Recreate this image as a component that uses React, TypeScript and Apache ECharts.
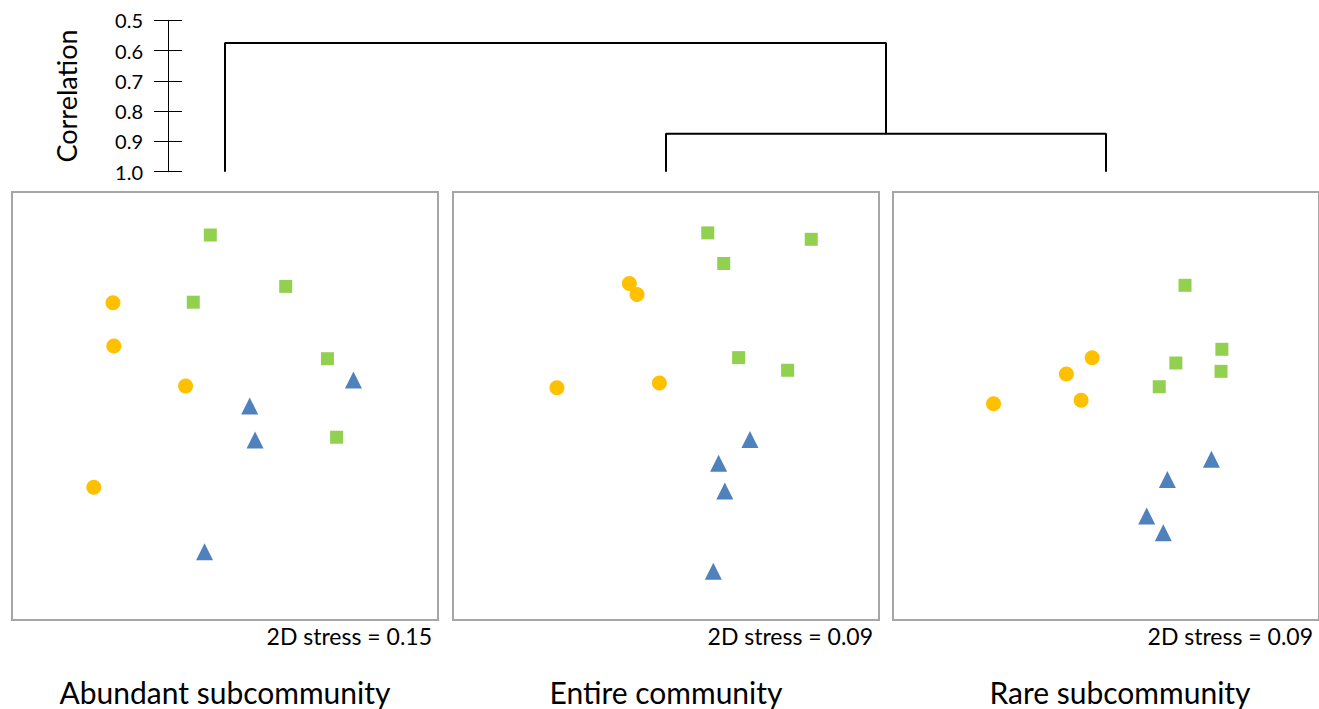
import React, { useEffect, useRef } from "react";
import * as echarts from "echarts";

// ---- Data ----
const panelTitles = ["Abundant subcommunity", "Entire community", "Rare subcommunity"];
const stressValues = [0.15, 0.09, 0.09];
const correlationTicks = [0.5, 0.6, 0.7, 0.8, 0.9, 1.0];

// Dendrogram merge heights (correlation)
const mergeEntireRare = 0.875; // Entire + Rare
const mergeAll = 0.575; // Abundant + (Entire, Rare)

// NMDS coordinates per panel: circles (orange), squares (green), triangles (blue)
const abundantCircles = [[-0.526, 0.483], [-0.522, 0.28], [-0.185, 0.093], [-0.616, -0.38]];
const abundantSquares = [[-0.069, 0.799], [-0.149, 0.485], [0.285, 0.559], [0.481, 0.221], [0.524, -0.146]];
const abundantTriangles = [[0.116, 0.0], [0.141, -0.159], [-0.096, -0.681], [0.603, 0.121]];

const entireCircles = [[-0.172, 0.572], [-0.136, 0.521], [-0.031, 0.108], [-0.512, 0.085]];
const entireSquares = [[0.196, 0.809], [0.682, 0.779], [0.271, 0.666], [0.341, 0.226], [0.571, 0.167]];
const entireTriangles = [[0.394, -0.156], [0.247, -0.268], [0.276, -0.397], [0.222, -0.772]];

const rareCircles = [[-0.065, 0.226], [-0.186, 0.15], [-0.117, 0.027], [-0.528, 0.011]];
const rareSquares = [[0.371, 0.564], [0.544, 0.265], [0.328, 0.201], [0.54, 0.162], [0.25, 0.09]];
const rareTriangles = [[0.495, -0.249], [0.288, -0.344], [0.191, -0.514], [0.269, -0.592]];

const panelData = [
  [abundantCircles, abundantSquares, abundantTriangles],
  [entireCircles, entireSquares, entireTriangles],
  [rareCircles, rareSquares, rareTriangles],
];

const FONT = "Lato, 'Open Sans', sans-serif";
const groupStyles = [
  { symbol: "circle", size: 15, color: "#FFC000" },
  { symbol: "rect", size: 13, color: "#92D050" },
  { symbol: "triangle", size: 17, color: "#4F81BD" },
];

const panelLefts = [12, 453, 893];
const panelTop = 192;
const panelW = 426;
const panelH = 428;
const W = 1319;

export default function App() {
  const ref = useRef<HTMLDivElement>(null);
  useEffect(() => {
    if (!ref.current) return;
    const chart = echarts.init(ref.current, null, { renderer: "svg" });

    const grids: any[] = [
      { left: 168, top: 20.3, width: 1, height: 151.4 },
      { left: 0, top: 20.3, width: W, height: 151.4 },
    ];
    panelLefts.forEach((l) =>
      grids.push({
        left: l,
        top: panelTop,
        width: panelW,
        height: panelH,
        show: true,
        borderColor: "#a6a6a6",
        borderWidth: 2,
        backgroundColor: "transparent",
      })
    );

    const xAxes: any[] = [
      { gridIndex: 0, type: "value", show: false, min: 0, max: 1 },
      { gridIndex: 1, type: "value", show: false, min: 0, max: W },
    ];
    const yAxes: any[] = [
      {
        gridIndex: 0,
        type: "value",
        position: "left",
        inverse: true,
        min: correlationTicks[0],
        max: correlationTicks[correlationTicks.length - 1],
        interval: 0.1,
        axisLine: { show: true, lineStyle: { color: "#000", width: 1 } },
        axisTick: { show: true, inside: false, length: 14, lineStyle: { color: "#000", width: 1 } },
        axisLabel: {
          show: true,
          fontSize: 20,
          fontFamily: FONT,
          color: "#000",
          margin: 25,
          formatter: (v: number) => v.toFixed(1),
        },
        splitLine: { show: false },
        name: "Correlation",
        nameLocation: "middle",
        nameRotate: 90,
        nameGap: 88,
        nameTextStyle: { fontSize: 27, fontFamily: FONT, color: "#000" },
      },
      {
        gridIndex: 0,
        type: "value",
        position: "left",
        offset: 0,
        inverse: true,
        min: correlationTicks[0],
        max: correlationTicks[correlationTicks.length - 1],
        interval: 0.1,
        axisLine: { show: false },
        axisTick: { show: true, inside: true, length: 14, lineStyle: { color: "#000", width: 1 } },
        axisLabel: { show: false },
        splitLine: { show: false },
      },
      { gridIndex: 1, type: "value", show: false, inverse: true, min: 0.5, max: 1.0 },
    ];
    panelLefts.forEach((_, i) => {
      xAxes.push({ gridIndex: i + 2, type: "value", show: false, min: -1, max: 1 });
      yAxes.push({ gridIndex: i + 2, type: "value", show: false, min: -1, max: 1 });
    });

    // dendrogram leaves sit above each panel's centre
    const leafX = panelLefts.map((l) => l + panelW / 2);
    const [p0, p1, p2] = leafX;
    const mid12 = (p1 + p2) / 2;
    const lineStyle = { color: "#000", width: 2 };
    const series: any[] = [
      { type: "line", xAxisIndex: 0, yAxisIndex: 1, symbol: "none", data: [] },
      {
        type: "line",
        xAxisIndex: 1,
        yAxisIndex: 2,
        symbol: "none",
        lineStyle,
        data: [[p1, 1.0], [p1, mergeEntireRare], [p2, mergeEntireRare], [p2, 1.0]],
      },
      {
        type: "line",
        xAxisIndex: 1,
        yAxisIndex: 2,
        symbol: "none",
        lineStyle,
        data: [[p0, 1.0], [p0, mergeAll], [mid12, mergeAll], [mid12, mergeEntireRare]],
      },
    ];
    panelData.forEach((groups, i) => {
      groups.forEach((pts, g) => {
        const st = groupStyles[g];
        series.push({
          type: "scatter",
          xAxisIndex: i + 2,
          yAxisIndex: i + 3,
          symbol: st.symbol,
          symbolSize: st.size,
          itemStyle: { color: st.color, opacity: 1 },
          data: pts,
        });
      });
    });

    const graphic: any[] = [];
    panelLefts.forEach((l, i) => {
      graphic.push({
        type: "text",
        x: l + panelW - 6,
        y: 636,
        style: {
          text: `2D stress = ${stressValues[i].toFixed(2)}`,
          font: `23px ${FONT}`,
          fill: "#000",
          textAlign: "right",
          textVerticalAlign: "middle",
        },
      });
      graphic.push({
        type: "text",
        x: l + panelW / 2 + (i === 2 ? 14 : 0),
        y: 692,
        style: {
          text: panelTitles[i],
          font: `30px ${FONT}`,
          fill: "#000",
          textAlign: "center",
          textVerticalAlign: "middle",
        },
      });
    });

    chart.setOption({
      animation: false,
      backgroundColor: "#fff",
      grid: grids,
      xAxis: xAxes,
      yAxis: yAxes,
      series,
      graphic,
    });
    return () => chart.dispose();
  }, []);
  return (
    <div
      ref={ref}
      style={{ position: "absolute", left: 0, top: 0, width: W, height: 709 }}
    />
  );
}
